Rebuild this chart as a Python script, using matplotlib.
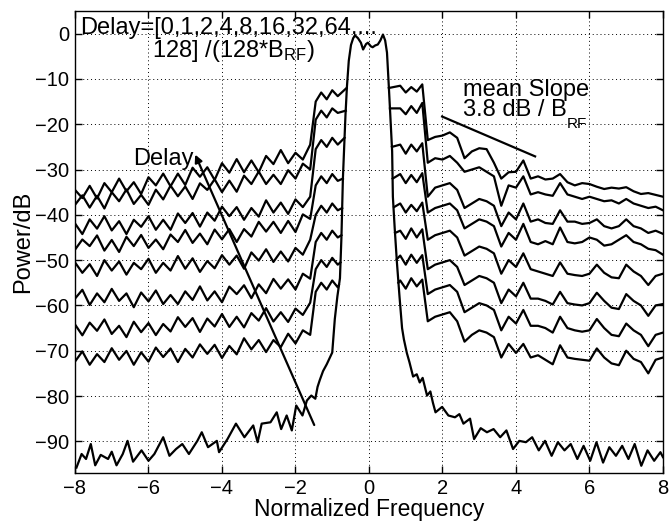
import numpy as np
import matplotlib
matplotlib.use('Agg')
import matplotlib.pyplot as plt
from matplotlib.transforms import IdentityTransform

plt.rcParams['font.family'] = ['Liberation Sans', 'DejaVu Sans']
plt.rcParams['mathtext.fontset'] = 'custom'
plt.rcParams['mathtext.rm'] = 'Liberation Sans'
plt.rcParams['mathtext.it'] = 'Liberation Sans:italic'
plt.rcParams['mathtext.bf'] = 'Liberation Sans:bold'

# ---------------- data ----------------
# shared sample positions (normalized frequency)
x_left = list(np.round(np.arange(-8.0, -1.59, 0.2), 2)) + [-1.45, -1.3, -1.15, -1.0, -0.85]
x_right = [0.85, 1.0, 1.15, 1.3, 1.45] + list(np.round(np.arange(1.6, 8.01, 0.2), 2))

# base spectrum (delay 0)
base_x = [-7.96, -7.82, -7.7, -7.57, -7.45, -7.3, -7.1, -7.0, -6.87, -6.7, -6.57, -6.42, -6.19, -6.0,
          -5.84, -5.6, -5.43, -5.25, -5.08, -4.9, -4.67, -4.55, -4.38, -4.14, -4.08, -3.85, -3.62,
          -3.39, -3.15, -3.03, -2.92, -2.68, -2.51, -2.39, -2.24, -2.1, -1.98, -1.81, -1.69, -1.57,
          -1.46, -1.4, -1.34, -1.25, -1.15, -1.0, -0.93, -0.86, -0.79, -0.75, -0.71, -0.68, -0.64,
          -0.6, -0.55, -0.49, -0.43, -0.38, -0.3, -0.22, -0.16, -0.08, -0.03, 0.05, 0.1, 0.17, 0.24,
          0.31, 0.38, 0.44, 0.49, 0.54, 0.58, 0.63, 0.65, 0.7, 0.76, 0.83, 0.9, 0.95, 1.03, 1.1, 1.2,
          1.3, 1.38, 1.46, 1.58, 1.67, 1.74, 1.81, 1.99, 2.16, 2.34, 2.46, 2.57, 2.75, 2.86, 3.04,
          3.21, 3.39, 3.57, 3.74, 3.92, 4.09, 4.27, 4.44, 4.62, 4.79, 4.97, 5.14, 5.32, 5.49, 5.67,
          5.84, 6.02, 6.19, 6.37, 6.54, 6.72, 6.89, 7.06, 7.23, 7.41, 7.58, 7.76, 7.93, 8.0]
base_y = [-95.8, -92.8, -93.9, -90.6, -95.3, -93.0, -93.9, -92.3, -95.3, -92.8, -89.9, -94.5, -92.0,
          -94.3, -92.8, -89.1, -93.2, -91.7, -90.6, -92.8, -89.9, -88.0, -91.3, -89.9, -92.4, -89.5,
          -86.1, -89.1, -86.5, -90.2, -86.1, -85.8, -83.6, -87.3, -84.3, -87.6, -82.1, -84.3, -81.0,
          -79.9, -80.6, -78.0, -76.5, -74.5, -73.0, -70.4, -63.0, -58.0, -54.0, -45.0, -32.0, -26.0,
          -18.0, -11.7, -6.0, -2.5, -1.0, -0.4, -1.0, -2.0, -3.5, -2.3, -2.0, -2.8, -3.0, -2.6, -2.4,
          -1.5, -0.2, -1.5, -4.2, -11.7, -18.0, -26.0, -36.0, -43.0, -50.5, -58.0, -65.0, -67.5,
          -70.5, -72.5, -75.7, -75.2, -77.0, -76.0, -79.9, -79.0, -81.5, -83.6, -82.4, -84.3, -84.7,
          -84.0, -86.1, -85.0, -89.5, -87.1, -88.0, -87.3, -89.1, -87.6, -91.7, -89.9, -90.2, -89.1,
          -92.0, -89.9, -93.2, -90.2, -92.0, -90.6, -93.9, -91.0, -94.3, -90.2, -94.7, -91.3, -93.2,
          -91.0, -93.9, -90.6, -95.4, -92.0, -94.3, -92.4, -93.5]

# delayed curves (top to bottom: largest delay first)
c1_left = [-34.5, -36.3, -33.6, -36.4, -33.0, -35.0, -32.0, -34.8, -32.8, -35.4, -31.7, -33.5, -30.9,
           -33.7, -30.9, -33.4, -29.6, -31.6, -29.5, -32.3, -28.6, -30.7, -27.7, -30.6, -28.0, -30.6,
           -27.0, -28.8, -25.7, -28.6, -26.3, -27.8, -24.5, -15.0, -13.0, -14.5, -12.5, -13.8]
c2_left = [-37.8, -35.7, -38.4, -35.8, -38.6, -35.0, -37.0, -34.4, -37.6, -35.6, -37.8, -34.45, -36.6,
           -33.55, -35.9, -33.75, -36.5, -33.05, -34.5, -32.15, -35.0, -32.45, -34.9, -31.35, -33.2,
           -30.45, -33.2, -31.15, -33.2, -30.15, -32.0, -28.7, -30.0, -19.0, -17.0, -18.5, -16.5, -17.5]
c3_left = [-41.9, -44.25, -41.0, -43.05, -40.3, -43.45, -41.4, -44.25, -41.1, -42.65, -40.3, -43.3,
           -41.1, -43.3, -39.7, -41.8, -39.6, -42.6, -39.5, -41.3, -38.2, -40.3, -38.3, -41.1, -38.5,
           -40.4, -36.8, -39.5, -37.3, -39.8, -36.6, -38.3, -36.0, -25.5, -23.5, -25.0, -23.0, -24.5]
c4_left = [-47.7, -45.45, -46.9, -44.55, -47.9, -45.55, -48.2, -44.85, -46.9, -44.45, -47.3, -45.45,
           -47.6, -44.35, -46.0, -43.35, -46.2, -44.15, -46.5, -43.25, -45.4, -43.15, -46.0, -43.15,
           -44.8, -41.55, -43.7, -41.55, -44.0, -41.35, -43.8, -39.9, -40.9, -33.5, -31.5, -33.0,
           -31.0, -32.5]
c5_left = [-50.5, -52.8, -50.9, -53.5, -50.0, -52.3, -50.3, -53.2, -50.6, -52.0, -49.7, -52.8, -50.6,
           -52.3, -49.1, -51.9, -49.6, -52.6, -50.2, -51.8, -48.9, -51.0, -49.0, -51.9, -48.3, -50.1,
           -47.6, -50.4, -48.1, -50.3, -47.3, -48.8, -45.5, -40.0, -38.0, -39.5, -37.5, -39.0]
c6_left = [-58.5, -56.55, -59.9, -57.35, -59.3, -56.35, -59.0, -57.35, -60.4, -57.15, -59.1, -56.7,
           -59.7, -57.7, -59.7, -56.9, -58.8, -55.8, -58.9, -56.9, -59.3, -55.85, -57.5, -55.55, -58.4,
           -55.35, -57.3, -54.15, -56.3, -54.25, -56.5, -53.0, -54.1, -46.0, -44.0, -45.5, -43.5, -45.0]
c7_left = [-64.2, -66.6, -63.8, -65.6, -63.1, -66.3, -64.5, -67.0, -63.6, -65.9, -63.9, -66.55, -64.1,
           -65.75, -62.6, -64.75, -62.8, -65.85, -62.9, -64.65, -61.9, -64.75, -62.5, -64.85, -61.7,
           -63.35, -60.6, -63.55, -61.5, -63.65, -60.7, -62.1, -59.4, -52.0, -50.0, -51.5, -49.5, -51.0]
c8_left = [-72.4, -70.15, -73.1, -70.75, -72.5, -69.45, -72.0, -70.05, -73.1, -70.35, -72.4, -69.3,
           -71.4, -69.5, -72.5, -69.6, -71.5, -68.6, -70.7, -68.7, -71.6, -68.95, -70.8, -67.25, -69.7,
           -67.65, -70.3, -67.65, -69.2, -66.25, -68.4, -65.5, -66.5, -57.0, -55.0, -56.5, -54.5, -56.0]

c1_right = [-11.5, -13.0, -11.8, -12.8, -11.2, -23.5, -22.8, -22.5, -21.8, -23.0, -27.5, -26.0, -25.3,
            -25.5, -28.5, -32.0, -30.6, -30.5, -28.0, -32.0, -31.5, -32.2, -32.0, -31.0, -32.8, -33.5,
            -33.0, -33.2, -33.8, -34.3, -34.0, -34.2, -33.9, -34.8, -35.4, -35.2, -35.6, -36.0]
c2_right = [-16.5, -17.8, -16.0, -17.5, -15.3, -28.5, -27.5, -27.8, -27.0, -28.5, -30.5, -30.0, -29.5,
            -30.5, -31.5, -38.0, -33.5, -34.0, -31.5, -35.5, -35.0, -35.5, -35.8, -33.0, -35.5, -36.0,
            -36.5, -36.0, -36.5, -37.0, -36.8, -37.5, -36.5, -37.5, -38.0, -38.5, -38.2, -39.0]
c3_right = [-24.5, -26.5, -24.5, -26.0, -24.2, -36.0, -34.0, -33.5, -33.0, -34.5, -38.5, -37.5, -36.5,
            -37.0, -38.0, -42.5, -39.5, -41.0, -37.5, -41.5, -41.0, -41.8, -42.0, -39.0, -41.5, -41.5,
            -42.0, -41.8, -41.0, -42.5, -43.0, -42.5, -41.0, -42.5, -43.0, -44.0, -43.5, -44.2]
c4_right = [-31.0, -33.0, -31.2, -32.8, -30.8, -39.5, -38.5, -38.0, -37.5, -39.0, -43.0, -42.0, -41.0,
            -41.5, -42.5, -47.0, -44.0, -45.5, -42.0, -46.0, -46.5, -45.8, -46.5, -42.8, -46.0, -46.3,
            -46.0, -45.0, -45.5, -46.8, -46.5, -45.5, -44.5, -46.0, -46.5, -47.5, -47.8, -48.8]
c5_right = [-37.5, -39.5, -37.8, -39.2, -37.3, -45.5, -44.5, -44.0, -43.5, -45.0, -49.0, -48.0, -47.0,
            -47.5, -48.5, -53.0, -50.0, -51.5, -48.5, -52.0, -52.5, -53.0, -53.5, -50.5, -53.0, -53.3,
            -53.5, -53.0, -51.0, -52.8, -53.8, -54.0, -51.0, -52.5, -53.5, -55.5, -53.5, -53.0]
c6_right = [-43.5, -45.3, -43.0, -45.0, -43.2, -52.0, -51.0, -50.5, -50.0, -51.5, -55.5, -54.5, -53.5,
            -54.0, -55.0, -59.5, -56.5, -58.0, -55.0, -58.5, -58.5, -59.0, -59.8, -57.0, -59.5, -59.8,
            -60.0, -59.5, -57.2, -59.0, -60.5, -60.8, -57.5, -59.0, -60.0, -62.3, -60.0, -59.7]
c7_right = [-49.0, -51.0, -48.8, -50.6, -48.9, -57.5, -56.5, -56.0, -55.5, -57.0, -61.5, -60.5, -59.5,
            -60.0, -61.0, -65.5, -62.5, -64.0, -61.0, -64.5, -64.5, -65.0, -66.0, -62.5, -65.0, -65.5,
            -65.8, -65.5, -63.0, -65.0, -66.5, -66.8, -64.0, -65.5, -66.5, -69.0, -66.5, -66.0]
c8_right = [-54.5, -56.3, -54.0, -55.8, -54.3, -63.5, -62.5, -62.0, -61.5, -63.5, -68.0, -66.5, -65.5,
            -66.0, -67.0, -71.5, -68.5, -70.5, -68.5, -71.5, -71.0, -72.0, -73.0, -68.8, -71.5, -71.8,
            -72.0, -72.2, -69.5, -71.5, -72.8, -73.2, -70.0, -71.8, -72.5, -75.0, -72.0, -71.5]

# points where each delayed curve meets the central peak (left / right)
join_left_x = [-0.61, -0.63, -0.665, -0.71, -0.73, -0.75, -0.775, -0.82]
join_left_y = [-12.0, -17.0, -23.0, -32.0, -38.5, -44.5, -50.5, -55.5]
join_right_x = [0.54, 0.57, 0.625, 0.645, 0.68, 0.71, 0.755, 0.80]
join_right_y = [-12.0, -16.5, -25.0, -32.0, -38.3, -44.0, -49.8, -55.0]

lefts = [c1_left, c2_left, c3_left, c4_left, c5_left, c6_left, c7_left, c8_left]
rights = [c1_right, c2_right, c3_right, c4_right, c5_right, c6_right, c7_right, c8_right]

x_ticks = [-8, -6, -4, -2, 0, 2, 4, 6, 8]
y_ticks = [-90, -80, -70, -60, -50, -40, -30, -20, -10, 0]

slope_x = [1.99, 4.52]
slope_y = [-18.3, -27.1]
arrow_tail = (-1.49, -86.4)
arrow_head = (-4.73, -26.7)

# ---------------- figure ----------------
fig = plt.figure(figsize=(6.69, 5.21), dpi=100)
ax = fig.add_axes([0.1121, 0.0921, 0.8789, 0.8868])

LW = 1.6
ax.plot(base_x, base_y, color='k', lw=LW, zorder=3)
for i in range(8):
    assert len(lefts[i]) == len(x_left), (i, len(lefts[i]))
    assert len(rights[i]) == len(x_right), (i, len(rights[i]))
    ax.plot(list(x_left) + [join_left_x[i]], list(lefts[i]) + [join_left_y[i]],
            color='k', lw=LW, zorder=3, solid_joinstyle='round')
    ax.plot([join_right_x[i]] + list(x_right), [join_right_y[i]] + list(rights[i]),
            color='k', lw=LW, zorder=3, solid_joinstyle='round')

ax.plot(slope_x, slope_y, color='k', lw=LW, zorder=3)
ax.annotate('', xy=arrow_head, xytext=arrow_tail,
            arrowprops=dict(arrowstyle='-|>', color='k', lw=LW, mutation_scale=11,
                            shrinkA=0, shrinkB=0), zorder=4)

ax.set_xlim(-8, 8)
ax.set_ylim(-97, 5)
ax.set_xticks(x_ticks)
ax.set_yticks(y_ticks)
ax.grid(True, color='k', linestyle=(0, (1, 3)), linewidth=0.7)
ax.tick_params(direction='in', top=True, right=True, length=5, width=1, labelsize=14.5, pad=4)
for s in ax.spines.values():
    s.set_linewidth(1.0)
ax.set_xlabel('Normalized Frequency', fontsize=16.5, labelpad=0.5)
ax.set_ylabel('Power/dB', fontsize=17, labelpad=1)

FS = 17
FSUB = 11


def chain_text(x, y, pieces):
    """pieces: list of (text, fontsize, dy_pixels)"""
    fig.canvas.draw()
    r = fig.canvas.get_renderer()
    bx, by = ax.transData.transform((x, y))
    cur = bx
    for txt, fs, dy in pieces:
        t = ax.text(cur, by + dy, txt, fontsize=fs, transform=IdentityTransform(),
                    ha='left', va='baseline', zorder=5)
        bb = t.get_window_extent(renderer=r)
        cur = bb.x1


# two-line delay annotation as one text block (second line indented);
# baseline alignment refers to the last line
ax.text(-7.86, -5.1,
        'Delay=[0,1,2,4,8,16,32,64,...\n' + ' ' * 11 + r'128] /(128*B$_{\mathrm{RF}}$)',
        fontsize=FS, ha='left', va='baseline', linespacing=0.92, zorder=5)
chain_text(-6.42, -28.9, [('Delay', FS, 0)])
chain_text(2.56, -13.8, [('mean Slope', FS, 0)])
chain_text(2.56, -18.2, [('3.8 dB / B', FS, 0), ('RF', FSUB, -12)])

fig.savefig('out.png', dpi=100)
